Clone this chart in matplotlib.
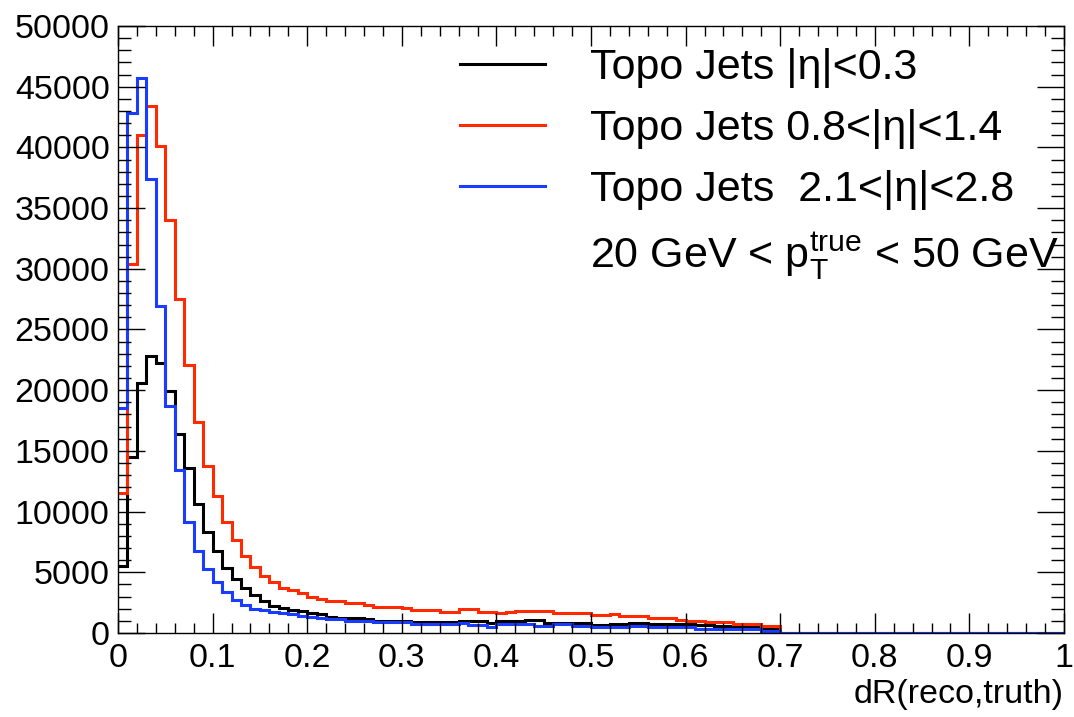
import matplotlib
matplotlib.use("Agg")
import matplotlib.pyplot as plt
import numpy as np
from matplotlib.lines import Line2D

plt.rcParams["font.family"] = ["Liberation Sans", "DejaVu Sans"]
plt.rcParams["mathtext.fontset"] = "custom"
plt.rcParams["mathtext.rm"] = "Liberation Sans"
plt.rcParams["mathtext.it"] = "Liberation Sans"

# 100 bins of 0.01 in dR, entries (thousands); bins >= 0.7 empty
bin_edges = np.linspace(0.0, 1.0, 101)

central_k = [
    5.5, 14.5, 20.6, 22.8, 22.2, 19.9, 16.4, 13.6, 10.6, 8.35,
    6.78, 5.38, 4.45, 3.68, 3.13, 2.64, 2.22, 2.09, 1.9, 1.81,
    1.67, 1.54, 1.35, 1.21, 1.21, 1.21, 1.13, 1.02, 1.02, 1.02,
    1.02, 0.88, 0.88, 0.88, 0.88, 0.88, 1.0, 0.95, 0.95, 0.8,
    1.0, 1.0, 1.0, 1.08, 1.08, 0.85, 0.85, 0.85, 0.85, 0.85,
    0.66, 0.66, 0.74, 0.74, 0.8, 0.8, 0.71, 0.71, 0.71, 0.7,
    0.7, 0.66, 0.66, 0.58, 0.58, 0.52, 0.52, 0.52, 0.38, 0.38,
]
mid_k = [
    11.5, 30.4, 41.0, 43.4, 40.1, 34.0, 27.5, 22.1, 17.4, 13.75,
    11.3, 9.17, 7.66, 6.3, 5.4, 4.7, 4.23, 3.68, 3.54, 3.27,
    2.94, 2.8, 2.66, 2.66, 2.44, 2.44, 2.31, 2.12, 2.12, 2.12,
    2.03, 1.9, 1.9, 1.9, 1.76, 1.76, 1.95, 1.95, 1.76, 1.76,
    1.62, 1.7, 1.81, 1.81, 1.81, 1.81, 1.62, 1.62, 1.62, 1.62,
    1.48, 1.48, 1.56, 1.4, 1.4, 1.4, 1.21, 1.21, 1.21, 1.07,
    0.99, 0.99, 0.88, 0.88, 0.88, 0.74, 0.74, 0.74, 0.6, 0.6,
]
forward_k = [
    18.5, 42.8, 45.7, 37.4, 26.9, 18.7, 13.4, 9.17, 6.78, 5.24,
    4.2, 3.4, 2.7, 2.3, 2.0, 1.9, 1.76, 1.62, 1.54, 1.4,
    1.3, 1.21, 1.13, 1.13, 1.0, 1.0, 1.0, 0.88, 0.88, 0.88,
    0.88, 0.74, 0.74, 0.74, 0.74, 0.74, 0.8, 0.66, 0.66, 0.52,
    0.7, 0.7, 0.7, 0.7, 0.6, 0.6, 0.7, 0.7, 0.6, 0.6,
    0.47, 0.47, 0.47, 0.47, 0.58, 0.58, 0.47, 0.47, 0.47, 0.47,
    0.47, 0.3, 0.3, 0.3, 0.3, 0.3, 0.3, 0.3, 0.2, 0.2,
]

labels = [
    "Topo Jets |η|<0.3",
    "Topo Jets 0.8<|η|<1.4",
    "Topo Jets  2.1<|η|<2.8",
]
colors = ["black", "#ff2a00", "#1a3cff"]
pt_label = r"20 GeV < $\mathrm{p}_{\mathrm{T}}^{\mathrm{true}}$ < 50 GeV"

x_ticks = [0, 0.1, 0.2, 0.3, 0.4, 0.5, 0.6, 0.7, 0.8, 0.9, 1.0]
x_ticklabels = ["0", "0.1", "0.2", "0.3", "0.4", "0.5", "0.6", "0.7", "0.8", "0.9", "1"]
y_ticks = list(range(0, 50001, 5000))


def padded(vals_k):
    v = np.zeros(len(bin_edges) - 1)
    v[: len(vals_k)] = np.array(vals_k) * 1000.0
    return v


fig = plt.figure(figsize=(10.74, 7.17), dpi=100)
ax = fig.add_axes([0.1099, 0.1172, 0.8808, 0.8465])

handles = []
for vals, col, lab in zip([central_k, mid_k, forward_k], colors, labels):
    ax.stairs(padded(vals), bin_edges, color=col, linewidth=2.2, baseline=None)
    handles.append(Line2D([], [], color=col, linewidth=2.2, label=lab))
handles.append(Line2D([], [], color="none", label=pt_label))

ax.set_xlim(0, 1)
ax.set_ylim(0, 50000)
ax.set_xticks(x_ticks)
ax.set_xticklabels(x_ticklabels)
ax.set_yticks(y_ticks)
ax.set_yticklabels([str(v) for v in y_ticks])
ax.xaxis.set_minor_locator(matplotlib.ticker.MultipleLocator(0.02))
ax.yaxis.set_minor_locator(matplotlib.ticker.MultipleLocator(1000))

ax.tick_params(which="both", direction="in", top=True, right=True, width=1.0,
               labelsize=24.5, colors="black")
ax.tick_params(axis="x", which="major", length=14.5, pad=7)
ax.tick_params(axis="x", which="minor", length=7.2)
ax.tick_params(axis="y", which="major", length=19.5, pad=6)
ax.tick_params(axis="y", which="minor", length=9.7)
for s in ax.spines.values():
    s.set_linewidth(1.0)

ax.set_xlabel("dR(reco,truth)", fontsize=24.5, loc="right", labelpad=4)

leg = ax.legend(handles=handles, loc="upper left", bbox_to_anchor=(0.3615, 0.963),
                frameon=False, fontsize=31, handlelength=1.98, handletextpad=1.05,
                labelspacing=0.48, borderpad=0.0, borderaxespad=0.0)

fig.savefig("out.png", dpi=100)
